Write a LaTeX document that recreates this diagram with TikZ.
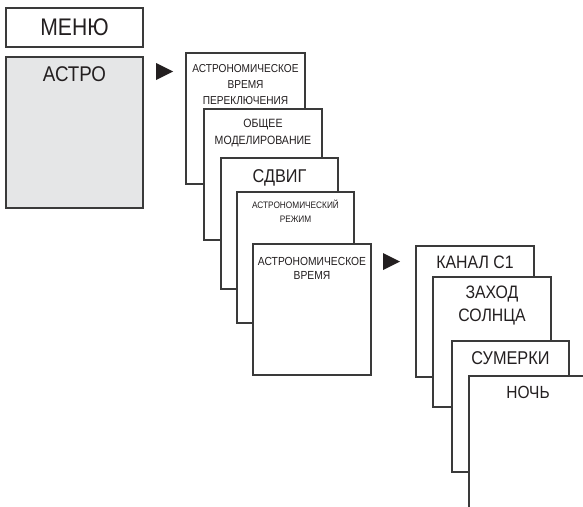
\documentclass[tikz,border=0pt]{standalone}
\usepackage{fontspec}
\setmainfont[FakeStretch=0.88]{Liberation Sans}
\definecolor{edge}{HTML}{3A3A3A}
\definecolor{ink}{HTML}{231F20}
\definecolor{menugray}{HTML}{E5E6E7}
\tikzset{
  card/.style={draw=edge, line width=1.1pt, fill=white, inner sep=0pt, outer sep=0pt,
               anchor=north west, minimum width=#1},
  card/.default=118pt,
  % base anchor of a multi-line label sits on its last line
  lbl/.style={anchor=base, inner sep=0pt, text=ink, align=center},
  pointer/.style={fill=ink, draw=none}
}
\newcommand{\fs}[2]{\fontsize{#1}{#2}\selectfont}
\begin{document}
\begin{tikzpicture}[x=1pt,y=-1pt]
\useasboundingbox (0,0) rectangle (583,506);
\clip (0,0) rectangle (583,506);

% main menu column
\node[card=137pt, minimum height=39pt] (menu) at (6,8) {};
\node[lbl, font=\fs{24}{24}] (menut) at ([yshift=-27pt]menu.north) {МЕНЮ};
\node[card=137pt, minimum height=151pt, fill=menugray] (astro) at (6,57) {};
\node[lbl, font=\fs{21.3}{22}] (astrot) at ([yshift=-24pt]astro.north) {АСТРО};

% pointer to the submenu
\path[pointer] (156,63) -- (173,71.5) -- (156,80) -- cycle;

% submenu cards
\node[card=119pt, minimum height=131pt] (s1) at (186,53) {};
\node[lbl, font=\fs{11.5}{16}] (s1t) at ([yshift=-51pt]s1.north)
  {АСТРОНОМИЧЕСКОЕ\\ВРЕМЯ\\ПЕРЕКЛЮЧЕНИЯ};

\node[card=118pt, minimum height=131pt] (s2) at (204,109) {};
\node[lbl, font=\fs{12}{17}] (s2t) at ([yshift=-35pt]s2.north)
  {ОБЩЕЕ\\МОДЕЛИРОВАНИЕ};

\node[card=117pt, minimum height=131pt] (s3) at (221,158) {};
\node[lbl, font=\fs{18.5}{19}] (s3t) at ([yshift=-24pt]s3.north) {СДВИГ};

\node[card=117pt, minimum height=131pt] (s4) at (237,192) {};
\node[lbl, font=\fs{9.4}{14}] (s4t) at ([yshift=-30pt]s4.north)
  {АСТРОНОМИЧЕСКИЙ\\РЕЖИМ};

\node[card=118pt, minimum height=131pt] (s5) at (253,244) {};
\node[lbl, font=\fs{11.7}{14}] (s5t) at ([yshift=-35pt]s5.north)
  {АСТРОНОМИЧЕСКОЕ\\ВРЕМЯ};

% pointer to the channel cards
\path[pointer] (383,253) -- (400,261.5) -- (383,270) -- cycle;

% channel cards
\node[card=118pt, minimum height=131pt] (c1) at (416,246) {};
\node[lbl, font=\fs{18}{18}] (c1t) at ([yshift=-22pt]c1.north) {КАНАЛ С1};

\node[card=118pt, minimum height=130pt] (c2) at (433,277) {};
\node[lbl, font=\fs{18}{23}] (c2t) at ([yshift=-44pt]c2.north)
  {ЗАХОД\\СОЛНЦА};

\node[card=117pt, minimum height=131pt] (c3) at (452,341) {};
\node[lbl, font=\fs{18.5}{19}] (c3t) at ([yshift=-23pt]c3.north) {СУМЕРКИ};

\node[card=118pt, minimum height=150pt] (c4) at (469,376) {};
\node[lbl, font=\fs{17.6}{18}] (c4t) at ([yshift=-22pt]c4.north) {НОЧЬ};
\end{tikzpicture}
\end{document}
